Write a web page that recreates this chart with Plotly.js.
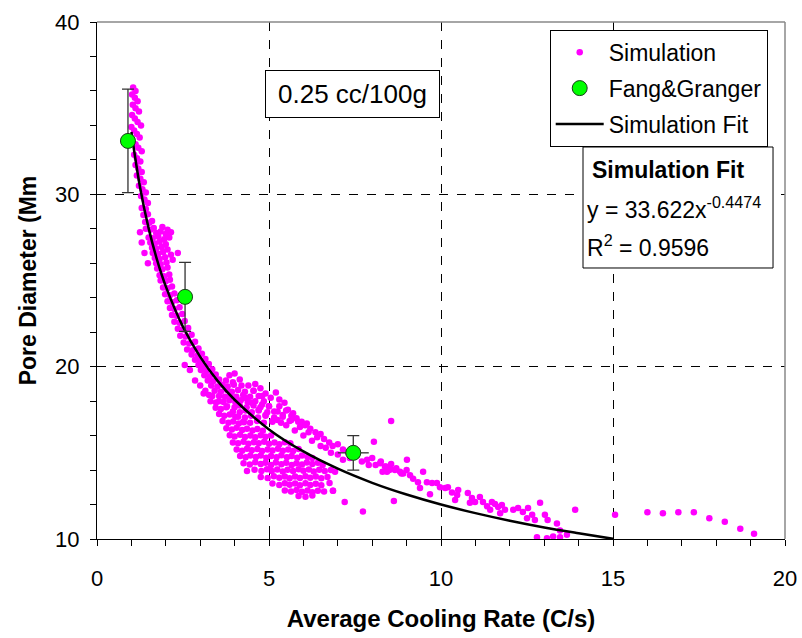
<!DOCTYPE html>
<html>
<head>
<meta charset="utf-8">
<script src="https://cdn.plot.ly/plotly-3.0.1.min.js"></script>
<style>html,body{margin:0;padding:0;background:#fff;}#chart{width:802px;height:638px;}</style>
</head>
<body>
<div id="chart"></div>
<script>
// ---- Data ----
// Simulation cloud, split by region: [x (C/s), y (pore diameter)]
const simTop = [[1.05,36.2],[1.12,36.0],[1.02,35.8],[1.10,35.6],[1.18,35.4],[1.04,35.2],[1.12,35.0],[1.22,34.8],[1.02,34.6],[1.10,34.4],[1.18,34.2],[1.28,34.0],[1.00,33.9],[1.08,33.7],[1.16,33.5],[1.24,33.3],[1.02,33.1],[1.12,32.9],[1.20,32.7],[1.30,32.5],[1.08,32.3],[1.16,32.1],[1.26,31.9],[1.12,31.7],[1.20,31.5],[1.30,31.3],[1.16,31.1],[1.26,30.9],[1.36,30.7],[1.22,30.5],[1.32,30.3],[1.42,30.1],[1.28,29.9],[1.38,29.7],[1.48,29.5]];
const simSteep = [[1.30,29.2],[1.42,29.15],[1.35,28.8],[1.48,28.85],[1.40,28.4],[1.52,28.35],[1.60,28.45],[1.42,28.0],[1.55,27.95],[1.65,28.05],[1.90,28.1],[2.05,27.95],[1.25,27.8],[1.72,27.75],[1.85,27.85],[2.00,27.7],[2.15,27.8],[1.50,27.5],[1.62,27.45],[1.78,27.55],[1.95,27.4],[2.10,27.5],[1.30,27.2],[1.55,27.2],[1.68,27.15],[1.82,27.25],[2.00,27.1],[1.60,26.9],[1.72,26.85],[1.88,26.95],[2.05,26.8],[2.35,26.6],[1.38,26.6],[1.62,26.6],[1.78,26.55],[1.92,26.65],[2.15,26.5],[1.68,26.3],[1.82,26.25],[1.98,26.35],[2.20,26.2],[1.48,26.0],[1.72,26.0],[1.85,25.95],[2.02,26.05],[1.75,25.7],[1.90,25.65],[2.05,25.75],[1.82,25.3],[1.95,25.25],[2.10,25.35],[1.85,25.0],[2.00,24.95],[2.12,25.05],[1.92,24.6],[2.05,24.55],[2.18,24.65],[1.98,24.2],[2.12,24.15],[2.25,24.25],[2.05,23.8],[2.18,23.75],[2.32,23.85],[2.12,23.4],[2.25,23.35],[2.40,23.45],[2.18,23.0],[2.32,22.95],[2.48,23.05],[2.25,22.6],[2.40,22.55],[2.55,22.65],[2.35,22.2],[2.50,22.15],[2.65,22.25],[2.42,21.8],[2.58,21.75],[2.75,21.85],[2.52,21.4],[2.68,21.35],[2.85,21.45],[2.62,21.0],[2.78,20.95],[2.95,21.05]];
const simKnee = [[2.75,20.7],[2.92,20.65],[3.05,20.75],[2.85,20.4],[3.00,20.35],[3.15,20.45],[2.55,20.1],[2.95,20.1],[3.10,20.05],[3.25,20.15],[2.70,19.8],[3.02,19.8],[3.18,19.75],[3.35,19.85],[3.12,19.5],[3.28,19.45],[3.45,19.55],[3.85,19.5],[4.00,19.6],[2.85,19.2],[3.22,19.2],[3.38,19.15],[3.55,19.25],[3.75,19.2],[3.95,19.1],[4.15,19.25],[3.00,18.9],[3.32,18.9],[3.50,18.85],[3.65,18.95],[3.80,18.85],[3.98,18.95],[4.20,18.9],[3.15,18.6],[3.42,18.6],[3.60,18.55],[3.78,18.65],[3.92,18.55],[4.10,18.65],[4.30,18.55],[4.55,18.6],[3.35,18.3],[3.55,18.3],[3.72,18.25],[3.88,18.35],[4.05,18.25],[4.25,18.35],[4.45,18.25],[4.80,18.3],[3.55,18.0],[3.68,17.95],[3.85,18.05],[4.02,17.95],[4.18,18.05],[4.38,17.95],[4.60,18.0],[3.78,17.7],[4.00,17.65],[4.15,17.75],[4.35,17.65],[4.55,17.75],[4.75,17.65],[5.00,17.7],[3.95,17.4],[4.15,17.35],[4.32,17.45],[4.50,17.35],[4.70,17.45],[4.95,17.35],[5.25,17.4],[5.50,17.45],[4.10,17.1],[4.30,17.05],[4.48,17.15],[4.68,17.05],[4.90,17.15],[5.15,17.05],[5.40,17.1],[5.65,17.15],[4.25,16.8],[4.45,16.75],[4.65,16.85],[4.85,16.75],[5.10,16.85],[5.35,16.75],[5.60,16.85],[5.85,16.8],[6.10,16.7],[3.10,18.45],[3.26,18.35],[3.30,18.0],[3.46,17.92],[3.45,17.62],[3.60,17.55],[3.76,17.65]];
const simBlob = [[3.55,17.25],[3.70,17.15],[3.86,17.22],[4.02,17.1],[3.65,16.85],[3.82,16.75],[3.96,16.82],[4.12,16.7],[4.27,16.78],[3.76,16.42],[3.92,16.35],[4.06,16.45],[4.22,16.32],[4.36,16.4],[4.52,16.3],[4.66,16.38],[4.82,16.28],[3.86,16.02],[4.00,15.95],[4.16,16.05],[4.30,15.92],[4.46,16.0],[4.60,15.9],[4.76,16.02],[4.90,15.94],[5.06,16.0],[3.95,15.6],[4.10,15.55],[4.26,15.65],[4.40,15.52],[4.56,15.62],[4.70,15.55],[4.86,15.64],[5.00,15.52],[5.16,15.6],[5.30,15.5],[5.46,15.62],[5.62,15.55],[4.06,15.2],[4.22,15.12],[4.36,15.24],[4.50,15.15],[4.66,15.22],[4.80,15.1],[4.96,15.2],[5.10,15.14],[5.26,15.24],[5.40,15.12],[5.56,15.2],[5.70,15.1],[5.86,15.22],[4.16,14.82],[4.32,14.74],[4.46,14.85],[4.62,14.76],[4.76,14.84],[4.92,14.72],[5.06,14.82],[5.22,14.75],[5.36,14.86],[5.52,14.74],[5.66,14.82],[5.82,14.72],[5.96,14.84],[6.12,14.76],[6.26,14.7],[4.26,14.4],[4.44,14.32],[4.60,14.45],[4.76,14.35],[4.90,14.42],[5.06,14.3],[5.20,14.44],[5.36,14.34],[5.50,14.42],[5.66,14.3],[5.80,14.4],[5.96,14.32],[6.10,14.44],[6.26,14.35],[6.42,14.42],[6.56,14.3],[4.36,13.95],[4.58,14.02],[4.78,13.94],[4.94,14.05],[5.08,13.95],[5.24,14.04],[5.40,13.92],[5.54,14.02],[5.70,13.94],[5.86,14.05],[6.00,13.96],[6.16,14.04],[6.30,13.92],[6.46,14.02],[6.62,13.95],[6.80,14.0],[6.92,13.9],[4.76,13.6],[4.96,13.54],[5.14,13.64],[5.30,13.55],[5.46,13.62],[5.60,13.52],[5.76,13.62],[5.90,13.54],[6.06,13.64],[6.20,13.55],[6.36,13.62],[6.52,13.52],[6.70,13.6],[5.10,13.22],[5.30,13.14],[5.46,13.24],[5.60,13.15],[5.76,13.22],[5.90,13.12],[6.06,13.24],[6.20,13.14],[6.36,13.2],[6.52,13.12],[6.76,13.25],[5.46,12.82],[5.64,12.76],[5.80,12.85],[5.96,12.74],[6.12,12.82],[6.26,12.72],[6.42,12.8],[6.60,12.76],[6.86,12.8],[5.86,12.5],[6.06,12.45],[6.26,12.52]];
const simUpper = [[4.40,18.9],[4.55,18.6],[4.70,18.3],[4.85,18.0],[5.00,17.7],[4.60,19.0],[4.75,18.75],[4.90,18.45],[5.05,18.2],[5.20,18.5],[5.30,18.1],[5.15,17.4],[5.30,17.7],[5.45,17.9],[5.25,16.9],[5.40,17.2],[5.55,17.5],[5.70,17.3],[5.50,16.6],[5.65,16.9],[5.80,17.0],[5.95,16.8],[5.75,16.3],[5.90,16.5],[6.05,16.6],[6.20,16.4],[6.00,16.0],[6.15,16.2],[6.35,16.2],[6.50,16.1],[6.25,15.7],[6.40,15.9],[6.60,15.8],[6.75,15.6],[6.50,15.4],[6.65,15.3],[6.85,15.4],[7.00,15.5],[6.80,15.0],[7.00,14.9],[7.15,15.2],[7.30,15.0],[7.15,14.6],[7.35,14.7],[7.55,14.85],[7.70,14.5],[7.85,14.6],[8.00,14.7],[7.90,14.3],[8.10,14.3],[8.25,14.5],[8.40,14.2],[8.55,14.35],[8.30,13.9],[8.50,14.0],[8.70,14.1],[8.85,13.8],[9.00,14.0],[9.10,13.7],[4.30,18.2],[4.50,17.9],[4.70,17.5],[4.90,17.2],[5.10,16.8],[4.80,17.8]];
const simTailBand = [[8.23,14.4],[8.37,14.2],[8.52,14.2],[8.66,14.0],[8.81,13.9],[8.90,13.8],[8.43,13.9],[9.01,14.6],[9.19,13.5],[9.33,13.3],[9.39,12.96],[9.48,13.9],[9.59,13.3],[9.74,13.25],[9.68,12.6],[9.88,13.25],[9.97,13.0],[10.12,12.96],[10.20,13.0],[10.32,12.7],[10.47,12.55],[10.50,12.85],[10.41,12.26],[10.78,12.67],[10.90,12.38],[10.99,12.15],[10.84,12.1],[11.13,12.44],[11.22,12.15],[11.34,11.9],[11.48,12.15],[11.57,12.03],[11.66,11.86],[11.77,11.97],[11.86,11.7],[11.72,11.5],[11.43,11.7],[12.10,11.7],[12.24,11.8],[12.38,11.57],[12.53,11.8],[12.50,11.2],[12.65,11.4],[12.73,11.1],[12.88,12.1],[13.02,11.4],[13.10,11.1],[13.37,10.9],[13.46,10.5],[13.66,10.25],[13.90,11.7],[12.79,10.1],[13.08,10.05],[13.26,10.15],[13.46,10.1]];
const simOutliers = [[8.55,16.85],[8.05,15.65],[6.86,12.8],[7.20,12.15],[7.73,11.6],[8.63,12.2],[15.06,11.4],[16.00,11.55],[16.45,11.5],[16.90,11.55],[17.35,11.55],[17.80,11.2],[18.25,11.0],[18.70,10.6],[19.10,10.3]];

// Fang & Granger measurements with error bars
const fangX = [0.9, 2.56, 7.45];
const fangY = [33.1, 24.05, 15.0];
const fangErrY = [3, 2, 1];
const fangErrX = [0, 0, 0.45];

// Simulation fit curve (power law as drawn)
const fitX = [1.0, 1.25, 1.5, 1.75, 2, 2.5, 3, 3.5, 4, 5, 6, 7, 8, 9, 10, 11, 12, 13, 14, 15];
const fitY = [33.62, 30.43, 28.04, 26.17, 24.66, 22.31, 20.57, 19.19, 18.08, 16.36, 15.08, 14.08, 13.26, 12.58, 12.00, 11.50, 11.06, 10.67, 10.33, 10.01];

// Axis ticks
const xTicks = [0, 5, 10, 15, 20];
const yTicks = [10, 20, 30, 40];

// ---- Build ----
const simAll = [].concat(simTop, simSteep, simKnee, simBlob, simUpper, simTailBand, simOutliers);
const FONT = 'Arial, "Liberation Sans", sans-serif';

const traces = [
  {
    type: 'scatter', mode: 'markers', name: 'Simulation',
    x: simAll.map(p => p[0]), y: simAll.map(p => p[1]),
    marker: { color: '#FF00FF', size: 6.5 },
    legendrank: 1, legendgroup: 'a'
  },
  {
    type: 'scatter', mode: 'lines', name: 'Simulation Fit',
    x: fitX, y: fitY,
    line: { color: '#000000', width: 2.5, shape: 'spline' },
    legendrank: 3, legendgroup: 'c'
  },
  {
    type: 'scatter', mode: 'markers', name: 'Fang&Granger',
    x: fangX, y: fangY,
    marker: { color: '#00FF00', size: 15, line: { color: '#1b3b1b', width: 1 } },
    error_y: { type: 'data', array: fangErrY, color: '#333333', thickness: 1.3, width: 6 },
    error_x: { type: 'data', array: fangErrX, color: '#333333', thickness: 1.3, width: 0 },
    legendrank: 2, legendgroup: 'b'
  },
  { type: 'scatter', mode: 'markers', x: [], y: [], xaxis: 'x2', yaxis: 'y2', showlegend: false, hoverinfo: 'skip' }
];

const layout = {
  width: 802, height: 638,
  margin: { l: 97, r: 17, t: 22, b: 99 },
  paper_bgcolor: '#ffffff', plot_bgcolor: '#ffffff',
  font: { family: FONT, color: '#000000', size: 22 },
  showlegend: true,
  xaxis: {
    range: [0, 20], tickvals: xTicks, ticktext: xTicks.map(String),
    ticks: 'outside', ticklen: 6, tickcolor: '#000', tickwidth: 1,
    showline: true, linecolor: '#000', linewidth: 1,
    showgrid: true, gridcolor: '#000', griddash: 'dash', gridwidth: 1,
    zeroline: false, ticklabelstandoff: 14,
    minor: { dtick: 1, ticks: 'outside', ticklen: 6, tickcolor: '#000', showgrid: false },
    tickfont: { family: FONT, size: 22, color: '#000' },
    title: { text: '<b>Average Cooling Rate (C/s)</b>', font: { family: FONT, size: 24, color: '#000' }, standoff: 19 },
    automargin: false
  },
  yaxis: {
    range: [10, 40], tickvals: yTicks, ticktext: yTicks.map(String),
    ticks: 'outside', ticklen: 6, tickcolor: '#000', tickwidth: 1,
    showline: true, linecolor: '#000', linewidth: 1,
    showgrid: true, gridcolor: '#000', griddash: 'dash', gridwidth: 1,
    zeroline: false, ticklabelstandoff: 6,
    minor: { dtick: 2, ticks: 'outside', ticklen: 6, tickcolor: '#000', showgrid: false },
    tickfont: { family: FONT, size: 22, color: '#000' },
    title: { text: '<b>Pore Diameter (Mm</b>', font: { family: FONT, size: 23, color: '#000' }, standoff: 12 },
    automargin: false
  },
  xaxis2: {
    overlaying: 'x', anchor: 'y2', range: [0, 20], tickvals: xTicks, ticks: 'inside', ticklen: 4,
    tickcolor: '#000', showticklabels: false, showgrid: false, showline: false, zeroline: false, automargin: false
  },
  yaxis2: {
    overlaying: 'y', anchor: 'x2', range: [10, 40], tickvals: yTicks, ticks: 'inside', ticklen: 4,
    tickcolor: '#000', showticklabels: false, showgrid: false, showline: false, zeroline: false, automargin: false
  },
  legend: {
    x: 0.658, y: 0.985, xanchor: 'left', yanchor: 'top',
    bgcolor: '#ffffff', bordercolor: '#000000', borderwidth: 1,
    font: { family: FONT, size: 23, color: '#000' },
    tracegroupgap: 3, itemwidth: 48
  },
  shapes: [
    { type: 'line', xref: 'paper', yref: 'paper', x0: 0, x1: 1, y0: 1, y1: 1, line: { color: '#888888', width: 1.5 }, layer: 'above' },
    { type: 'line', xref: 'paper', yref: 'paper', x0: 1, x1: 1, y0: 0, y1: 1, line: { color: '#888888', width: 1.5 }, layer: 'above' },
    { type: 'rect', xref: 'paper', yref: 'paper', x0: 0.7064, x1: 0.9826, y0: 0.5242, y1: 0.7582, line: { color: '#000', width: 1 }, fillcolor: '#ffffff', layer: 'above' }
  ],
  annotations: [
    { xref: 'paper', yref: 'paper', x: 0.371, y: 0.861, xanchor: 'center', yanchor: 'middle', showarrow: false,
      text: '0.25 cc/100g', font: { family: FONT, size: 26, color: '#000' },
      bgcolor: '#ffffff', bordercolor: '#000', borderwidth: 1, borderpad: 0, width: 173, height: 46 },
    { xref: 'paper', yref: 'paper', x: 0.7166, y: 0.7137, xanchor: 'left', yanchor: 'middle', showarrow: false,
      text: '<b>Simulation Fit</b>', font: { family: FONT, size: 23, color: '#000' } },
    { xref: 'paper', yref: 'paper', x: 0.7093, y: 0.6402, xanchor: 'left', yanchor: 'middle', showarrow: false,
      text: 'y = 33.622x<sup>-0.4474</sup>', font: { family: FONT, size: 23, color: '#000' } },
    { xref: 'paper', yref: 'paper', x: 0.7093, y: 0.5667, xanchor: 'left', yanchor: 'middle', showarrow: false,
      text: 'R<sup>2</sup> = 0.9596', font: { family: FONT, size: 23, color: '#000' } }
  ]
};

Plotly.newPlot('chart', traces, layout, { staticPlot: true, displayModeBar: false });
</script>
</body>
</html>
